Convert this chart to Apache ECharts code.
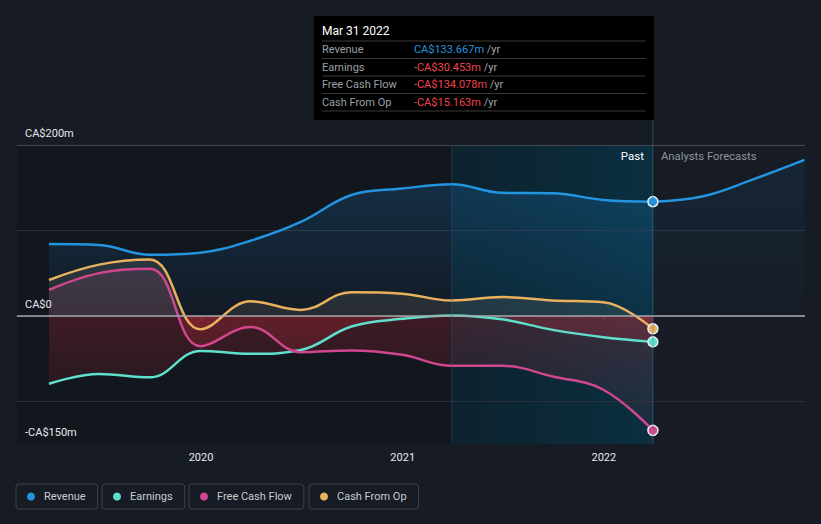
<!DOCTYPE html>
<html><head><meta charset="utf-8">
<script src="https://cdn.jsdelivr.net/npm/echarts@6/dist/echarts.min.js"></script>
<style>html,body{margin:0;padding:0;background:#161b24;}#c{width:821px;height:524px;}</style>
</head><body><div id="c"></div>
<script>
// ---- data (CA$ millions, trailing twelve months) ----
const dates = ['2019-03-31','2019-06-30','2019-09-30','2019-12-31','2020-03-31','2020-06-30','2020-09-30','2020-12-31','2021-03-31','2021-06-30','2021-09-30','2021-12-31','2022-03-31'];
const revenue = [84, 83, 71.5, 74, 88, 110, 141.5, 149, 154, 144, 143.5, 135.7, 133.667];
const earnings = [-79.5, -68, -72, -41, -44.5, -40, -12.5, -3.5, 0.5, -4, -16.4, -25, -30.453];
const freeCashFlow = [30.5, 50, 55, -35.5, -13, -42.5, -40.5, -45.6, -58.5, -58.5, -71, -86.5, -134.078];
const cashFromOp = [42, 60, 66, -15.6, 17, 7, 27.7, 26, 18, 22, 18, 16, -15.163];
const forecastDates = ['2022-03-31','2022-06-30','2022-09-30','2022-12-31'];
const revenueForecast = [133.667, 140, 160, 182.5];
const seriesNames = ['Revenue','Earnings','Free Cash Flow','Cash From Op'];
const yGridValues = [200, 100, -100];
const yLabelValues = [200, 0, -150];
const yLabelTexts = ['CA$200m','CA$0','-CA$150m'];
const xYears = ['2020-01-01','2021-01-01','2022-01-01'];
const xMin = '2019-02-01', xMax = '2023-01-01';
const pastStart = '2021-03-31', pastEnd = '2022-03-31';

const FONT = 'Roboto, "Noto Sans", sans-serif';
const COL = ['#2394DF', '#5FE0CC', '#D0478F', '#E9B15E'];
const months = ['Jan','Feb','Mar','Apr','May','Jun','Jul','Aug','Sep','Oct','Nov','Dec'];
const ts = (d) => Date.UTC(+d.slice(0, 4), +d.slice(5, 7) - 1, +d.slice(8, 10));

const chart = echarts.init(document.getElementById('c'), null, {renderer: 'svg', width: 821, height: 524});

function withMarker(ds, vs, color) {
  const d = vs.map((v, i) => [ts(ds[i]), v]);
  const k = d.length - 1;
  d[k] = {value: d[k], symbol: 'circle', symbolSize: 10,
    itemStyle: {color: color, borderColor: '#e9eef2', borderWidth: 1.5}};
  return d;
}
function fmt(v) { return (v < 0 ? '-' : '') + 'CA$' + Math.abs(v).toFixed(3) + 'm'; }

const legends = seriesNames.map((n, i) => ({
  data: [n], left: [16, 102, 189, 309][i], top: 484, orient: 'horizontal',
  icon: 'circle', itemWidth: 8, itemHeight: 8,
  borderColor: '#3c424c', borderWidth: 1, borderRadius: 3,
  padding: [7, 12, 7, 11], selectedMode: false,
  textStyle: {color: '#c8ccd2', fontSize: 11, fontFamily: FONT, padding: [0, 0, 0, 4]}
}));

const yearTicks = xYears.map(ts);
const baseOption = {
  backgroundColor: '#161b24',
  animation: false,
  textStyle: {fontFamily: FONT},
  legend: legends,
  grid: {left: 17, right: 16, top: 145, bottom: 80},
  xAxis: {
    type: 'value', min: ts(xMin), max: ts(xMax), scale: true,
    axisLine: {lineStyle: {color: '#3f454e', width: 1}},
    axisTick: {show: true, length: 5, lineStyle: {color: '#3f454e'}, customValues: yearTicks},
    axisLabel: {color: '#e6e8eb', fontSize: 11, fontFamily: FONT, margin: 8, customValues: yearTicks,
      formatter: (v) => String(new Date(v).getUTCFullYear())},
    splitLine: {show: false}
  },
  yAxis: {
    type: 'value', min: -150, max: 200,
    axisLabel: {show: false}, axisLine: {show: false}, axisTick: {show: false}, splitLine: {show: false}
  },
  series: []
};
chart.setOption(baseOption);

const yTop = chart.convertToPixel({yAxisIndex: 0}, 200);
const yZero = chart.convertToPixel({yAxisIndex: 0}, 0);
const yBot = chart.convertToPixel({yAxisIndex: 0}, -150);
const vx = chart.convertToPixel({xAxisIndex: 0}, ts(pastEnd));
const bx = chart.convertToPixel({xAxisIndex: 0}, ts(pastStart));

function signedArea(rgb, a) {
  const p = (yZero - yTop) / (yBot - yTop);
  return {type: 'linear', x: 0, y: yTop, x2: 0, y2: yBot, global: true, colorStops: [
    {offset: 0, color: 'rgba(' + rgb + ',' + a + ')'},
    {offset: p, color: 'rgba(' + rgb + ',' + (a * 0.7) + ')'},
    {offset: p, color: 'rgba(215,45,60,0.32)'},
    {offset: 1, color: 'rgba(215,45,60,0.04)'}
  ]};
}

const lineBase = {type: 'line', smooth: 0.4, symbol: 'none', z: 2, lineStyle: {width: 2.5}};

const series = [
  {type: 'line', data: [], z: 0, silent: true,
    markArea: {silent: true, z: 0, data: [
      [{xAxis: ts(xMin), itemStyle: {color: 'rgba(0,0,0,0.18)'}}, {xAxis: ts(pastStart)}],
      [{xAxis: ts(pastStart), itemStyle: {color: {type: 'linear', x: 0, y: 0, x2: 1, y2: 0, colorStops: [
        {offset: 0, color: 'rgba(0,45,60,0.42)'}, {offset: 1, color: 'rgba(0,66,90,0.52)'}]}}},
       {xAxis: ts(pastEnd)}]
    ]},
    markLine: {silent: true, symbol: 'none', z: 1,
      label: {show: false},
      data: yGridValues.map(v => ({yAxis: v, lineStyle: {color: v === 200 ? '#434952' : '#2a3039', width: 1, type: 'solid'}}))
    }
  },
  Object.assign({}, lineBase, {name: seriesNames[0], data: withMarker(dates, revenue, COL[0]),
    lineStyle: {width: 2.5, color: COL[0]}, itemStyle: {color: COL[0]},
    areaStyle: {color: {type: 'linear', x: 0, y: 0, x2: 0, y2: 1, colorStops: [
      {offset: 0, color: 'rgba(33,150,243,0.26)'}, {offset: 1, color: 'rgba(33,150,243,0.05)'}]}}}),
  Object.assign({}, lineBase, {name: seriesNames[0], data: revenueForecast.map((v, i) => [ts(forecastDates[i]), v]),
    lineStyle: {width: 2.5, color: COL[0]}, itemStyle: {color: COL[0]},
    areaStyle: {color: {type: 'linear', x: 0, y: 0, x2: 0, y2: 1, colorStops: [
      {offset: 0, color: 'rgba(33,150,243,0.12)'}, {offset: 1, color: 'rgba(33,150,243,0.02)'}]}}}),
  Object.assign({}, lineBase, {name: seriesNames[1], data: withMarker(dates, earnings, COL[1]),
    lineStyle: {width: 2.5, color: COL[1]}, itemStyle: {color: COL[1]},
    areaStyle: {color: signedArea('200,225,215', 0.18)}}),
  Object.assign({}, lineBase, {name: seriesNames[2], data: withMarker(dates, freeCashFlow, COL[2]),
    lineStyle: {width: 2.5, color: COL[2]}, itemStyle: {color: COL[2]},
    areaStyle: {color: signedArea('208,71,143', 0.24)}}),
  Object.assign({}, lineBase, {name: seriesNames[3], data: withMarker(dates, cashFromOp, COL[3]),
    lineStyle: {width: 2.5, color: COL[3]}, itemStyle: {color: COL[3]},
    areaStyle: {color: signedArea('225,205,165', 0.2)}}),
  {type: 'line', data: [], z: 3, silent: true,
    markLine: {silent: true, symbol: 'none', z: 3,
      data: yLabelValues.map((v, i) => ({yAxis: v,
        lineStyle: {color: v === 0 ? '#a3a6aa' : 'rgba(0,0,0,0)', width: v === 0 ? 1.5 : 0, type: 'solid'},
        label: {show: true, position: 'insideStartTop', formatter: yLabelTexts[i], color: '#e6e8eb',
          fontSize: 11, fontFamily: FONT, distance: [8, 6]}}))
    }
  }
];

const last = dates.length - 1;
const dparts = dates[last].split('-');
const title = months[+dparts[1] - 1] + ' ' + (+dparts[2]) + ' ' + dparts[0];
const lastVals = [revenue[last], earnings[last], freeCashFlow[last], cashFromOp[last]];
const boxL = vx - 339, boxT = 16;
const graphic = [
  {type: 'line', shape: {x1: vx, y1: 120, x2: vx, y2: yBot}, style: {stroke: 'rgba(70,130,150,0.5)', lineWidth: 1}, z: 10, silent: true},
  {type: 'line', shape: {x1: bx, y1: yTop, x2: bx, y2: yBot}, style: {stroke: 'rgba(30,95,120,0.45)', lineWidth: 1}, z: 10, silent: true},
  {type: 'rect', shape: {x: boxL, y: boxT, width: 340, height: 104}, style: {fill: '#000'}, z: 20, silent: true},
  {type: 'text', x: boxL + 8, y: 31, style: {text: title, fill: '#ffffff', fontSize: 12, fontFamily: FONT, verticalAlign: 'middle'}, z: 21},
  {type: 'text', x: vx - 9, y: 156, style: {text: 'Past', fill: '#ffffff', fontSize: 11.5, fontFamily: FONT, align: 'right', verticalAlign: 'middle'}, z: 21},
  {type: 'text', x: vx + 8, y: 156, style: {text: 'Analysts Forecasts', fill: '#8f959d', fontSize: 11.3, fontFamily: FONT, align: 'left', verticalAlign: 'middle'}, z: 21}
];
for (let i = 0; i < 5; i++) {
  const y = 41 + i * 17.5;
  graphic.push({type: 'line', shape: {x1: boxL + 8, y1: y, x2: vx - 7, y2: y}, style: {stroke: '#3a3a3a', lineWidth: 1}, z: 21, silent: true});
}
seriesNames.forEach((n, i) => {
  const y = 49.5 + i * 17.5;
  graphic.push({type: 'text', x: boxL + 8, y: y, style: {text: n, fill: '#9aa0a6', fontSize: 11, fontFamily: FONT, verticalAlign: 'middle'}, z: 21});
  graphic.push({type: 'text', x: boxL + 100, y: y, style: {
    text: '{v|' + fmt(lastVals[i]) + '} {u|/yr}', verticalAlign: 'middle', fontSize: 11, fontFamily: FONT,
    rich: {v: {fill: lastVals[i] < 0 ? '#F0444D' : COL[0], fontSize: 11, fontFamily: FONT},
           u: {fill: '#a0a4aa', fontSize: 11, fontFamily: FONT}}}, z: 21});
});

chart.setOption({series: series, graphic: graphic});
</script>
</body></html>
